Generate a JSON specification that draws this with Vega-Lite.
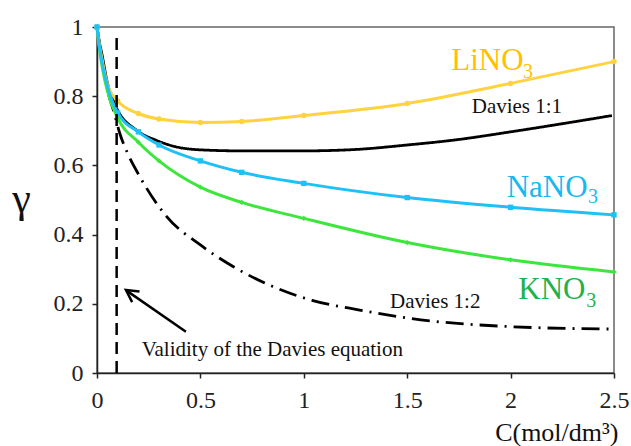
{
  "$schema": "https://vega.github.io/schema/vega-lite/v6.json",
  "width": 517,
  "height": 346,
  "autosize": "none",
  "padding": {"left": 97, "top": 27, "right": 17, "bottom": 73},
  "background": "white",
  "config": {
    "view": {"stroke": "#666666", "strokeWidth": 1.5},
    "font": "Liberation Serif"
  },
  "datasets": {
    "exp": [
      {"salt": "LiNO3", "c": 0, "g": 1.0},
      {"salt": "LiNO3", "c": 0.01, "g": 0.955},
      {"salt": "LiNO3", "c": 0.025, "g": 0.905},
      {"salt": "LiNO3", "c": 0.05, "g": 0.835},
      {"salt": "LiNO3", "c": 0.1, "g": 0.786},
      {"salt": "LiNO3", "c": 0.2, "g": 0.75},
      {"salt": "LiNO3", "c": 0.3, "g": 0.734},
      {"salt": "LiNO3", "c": 0.5, "g": 0.724},
      {"salt": "LiNO3", "c": 0.7, "g": 0.727},
      {"salt": "LiNO3", "c": 1.0, "g": 0.744},
      {"salt": "LiNO3", "c": 1.5, "g": 0.779},
      {"salt": "LiNO3", "c": 2.0, "g": 0.837},
      {"salt": "LiNO3", "c": 2.5, "g": 0.9},
      {"salt": "KNO3", "c": 0, "g": 1.0},
      {"salt": "KNO3", "c": 0.01, "g": 0.945},
      {"salt": "KNO3", "c": 0.025, "g": 0.885},
      {"salt": "KNO3", "c": 0.05, "g": 0.815},
      {"salt": "KNO3", "c": 0.1, "g": 0.737},
      {"salt": "KNO3", "c": 0.2, "g": 0.667},
      {"salt": "KNO3", "c": 0.3, "g": 0.613},
      {"salt": "KNO3", "c": 0.5, "g": 0.537},
      {"salt": "KNO3", "c": 0.7, "g": 0.493},
      {"salt": "KNO3", "c": 1.0, "g": 0.447},
      {"salt": "KNO3", "c": 1.5, "g": 0.377},
      {"salt": "KNO3", "c": 2.0, "g": 0.327},
      {"salt": "KNO3", "c": 2.5, "g": 0.292},
      {"salt": "NaNO3", "c": 0, "g": 1.0},
      {"salt": "NaNO3", "c": 0.01, "g": 0.95},
      {"salt": "NaNO3", "c": 0.025, "g": 0.895},
      {"salt": "NaNO3", "c": 0.05, "g": 0.83},
      {"salt": "NaNO3", "c": 0.1, "g": 0.752},
      {"salt": "NaNO3", "c": 0.2, "g": 0.697},
      {"salt": "NaNO3", "c": 0.3, "g": 0.659},
      {"salt": "NaNO3", "c": 0.5, "g": 0.613},
      {"salt": "NaNO3", "c": 0.7, "g": 0.58},
      {"salt": "NaNO3", "c": 1.0, "g": 0.548},
      {"salt": "NaNO3", "c": 1.5, "g": 0.507},
      {"salt": "NaNO3", "c": 2.0, "g": 0.479},
      {"salt": "NaNO3", "c": 2.5, "g": 0.457}
    ],
    "davies": [
      {"model": "Davies 1:1", "c": 0, "g": 1.0},
      {"model": "Davies 1:1", "c": 0.01, "g": 0.96},
      {"model": "Davies 1:1", "c": 0.023, "g": 0.924},
      {"model": "Davies 1:1", "c": 0.047, "g": 0.847},
      {"model": "Davies 1:1", "c": 0.09, "g": 0.772},
      {"model": "Davies 1:1", "c": 0.19, "g": 0.702},
      {"model": "Davies 1:1", "c": 0.285, "g": 0.673},
      {"model": "Davies 1:1", "c": 0.38, "g": 0.654},
      {"model": "Davies 1:1", "c": 0.5, "g": 0.645},
      {"model": "Davies 1:1", "c": 0.7, "g": 0.642},
      {"model": "Davies 1:1", "c": 1.0, "g": 0.642},
      {"model": "Davies 1:1", "c": 1.25, "g": 0.646},
      {"model": "Davies 1:1", "c": 1.5, "g": 0.659},
      {"model": "Davies 1:1", "c": 1.75, "g": 0.675},
      {"model": "Davies 1:1", "c": 2.0, "g": 0.697},
      {"model": "Davies 1:1", "c": 2.49, "g": 0.744},
      {"model": "Davies 1:2", "c": 0, "g": 1.0},
      {"model": "Davies 1:2", "c": 0.02, "g": 0.92},
      {"model": "Davies 1:2", "c": 0.05, "g": 0.82},
      {"model": "Davies 1:2", "c": 0.084, "g": 0.75},
      {"model": "Davies 1:2", "c": 0.11, "g": 0.693},
      {"model": "Davies 1:2", "c": 0.148, "g": 0.635},
      {"model": "Davies 1:2", "c": 0.2, "g": 0.575},
      {"model": "Davies 1:2", "c": 0.337, "g": 0.452},
      {"model": "Davies 1:2", "c": 0.5, "g": 0.37},
      {"model": "Davies 1:2", "c": 0.66, "g": 0.307},
      {"model": "Davies 1:2", "c": 0.85, "g": 0.25},
      {"model": "Davies 1:2", "c": 1.04, "g": 0.21},
      {"model": "Davies 1:2", "c": 1.27, "g": 0.182},
      {"model": "Davies 1:2", "c": 1.51, "g": 0.158},
      {"model": "Davies 1:2", "c": 2.0, "g": 0.134},
      {"model": "Davies 1:2", "c": 2.49, "g": 0.127}
    ]
  },
  "encoding": {
    "x": {
      "field": "c",
      "type": "quantitative",
      "scale": {"domain": [0, 2.5], "nice": false, "zero": false},
      "axis": {
        "grid": false,
        "values": [0, 0.5, 1, 1.5, 2, 2.5],
        "format": "~g",
        "domainColor": "#222222",
        "domainWidth": 1.5,
        "tickColor": "#222222",
        "tickWidth": 1.5,
        "tickSize": 5,
        "labelFont": "Liberation Serif",
        "labelFontSize": 24,
        "labelColor": "#222222",
        "labelPadding": 10,
        "labelFlush": false,
        "title": "C(mol/dm³)",
        "titleFont": "Liberation Serif",
        "titleFontWeight": "normal",
        "titleColor": "#111111",
        "titleFontSize": 26,
        "titleX": 521,
        "titleY": 67,
        "titleAlign": "right",
        "titleBaseline": "alphabetic"
      }
    },
    "y": {
      "field": "g",
      "type": "quantitative",
      "scale": {"domain": [0, 1], "nice": false},
      "axis": {
        "grid": false,
        "values": [0, 0.2, 0.4, 0.6, 0.8, 1],
        "format": "~g",
        "domainColor": "#222222",
        "domainWidth": 1.5,
        "tickColor": "#222222",
        "tickWidth": 1.5,
        "tickSize": 5,
        "labelFont": "Liberation Serif",
        "labelFontSize": 24,
        "labelColor": "#222222",
        "labelPadding": 9,
        "labelFlush": false,
        "title": "γ",
        "titleFont": "Liberation Serif",
        "titleFontWeight": "normal",
        "titleColor": "#111111",
        "titleFontSize": 42,
        "titleAngle": 0,
        "titleX": -76,
        "titleY": 184,
        "titleAlign": "center",
        "titleBaseline": "alphabetic"
      }
    }
  },
  "layer": [
    {
      "data": {"name": "davies"},
      "mark": {"type": "line", "color": "#000000", "strokeWidth": 2.8, "interpolate": "monotone"},
      "encoding": {
        "detail": {"field": "model"},
        "strokeDash": {
          "field": "model",
          "type": "nominal",
          "scale": {"domain": ["Davies 1:1", "Davies 1:2"], "range": [[1, 0], [18, 7, 2, 7]]},
          "legend": null
        }
      }
    },
    {
      "data": {"name": "exp"},
      "mark": {"type": "line", "strokeWidth": 3, "interpolate": "monotone"},
      "encoding": {
        "color": {
          "field": "salt",
          "type": "nominal",
          "scale": {"domain": ["LiNO3", "NaNO3", "KNO3"], "range": ["#FFD23F", "#1EC0F5", "#3DE63D"]},
          "legend": null
        }
      }
    },
    {
      "data": {"name": "exp"},
      "transform": [{"filter": "datum.c == 0 || datum.c >= 0.1"}],
      "mark": {"type": "point", "filled": true, "opacity": 1},
      "encoding": {
        "color": {
          "field": "salt",
          "type": "nominal",
          "scale": {"domain": ["LiNO3", "NaNO3", "KNO3"], "range": ["#FFD23F", "#1EC0F5", "#3DE63D"]},
          "legend": null
        },
        "shape": {
          "field": "salt",
          "type": "nominal",
          "scale": {"domain": ["LiNO3", "NaNO3", "KNO3"], "range": ["circle", "square", "diamond"]},
          "legend": null
        },
        "size": {
          "field": "salt",
          "type": "nominal",
          "scale": {"domain": ["LiNO3", "NaNO3", "KNO3"], "range": [30, 28, 14]},
          "legend": null
        }
      }
    },
    {
      "data": {"values": [{"c": 0.095, "g": 0, "g2": 0.97}]},
      "mark": {"type": "rule", "color": "#000000", "strokeWidth": 2.5, "strokeDash": [12, 7]},
      "encoding": {"y2": {"field": "g2"}}
    },
    {
      "data": {"values": [{"c": 0.43, "g": 0.119, "c2": 0.143, "g2": 0.238}]},
      "mark": {"type": "rule", "color": "#000000", "strokeWidth": 2.5},
      "encoding": {"x2": {"field": "c2"}, "y2": {"field": "g2"}}
    },
    {
      "data": {"values": [{"c": 0.14, "g": 0.24}]},
      "mark": {"type": "point", "shape": "M-0.47,0.88L0,0L0.47,0.88", "filled": false, "stroke": "#000000", "strokeWidth": 2.5, "size": 751, "angle": 305, "opacity": 1}
    },
    {
      "data": {"values": [
        {"t": "LiNO", "c": 1.713, "g": 0.876, "s": "LiNO3"},
        {"t": "NaNO", "c": 1.981, "g": 0.51, "s": "NaNO3"},
        {"t": "KNO", "c": 2.037, "g": 0.213, "s": "KNO3"}
      ]},
      "mark": {"type": "text", "font": "Liberation Serif", "fontSize": 31, "align": "left", "baseline": "alphabetic"},
      "encoding": {
        "text": {"field": "t"},
        "color": {
          "field": "s",
          "type": "nominal",
          "scale": {"domain": ["LiNO3", "NaNO3", "KNO3"], "range": ["#FFC000", "#18B8F0", "#22B14C"]},
          "legend": null
        }
      }
    },
    {
      "data": {"values": [
        {"t": "3", "c": 2.06, "g": 0.853, "s": "LiNO3"},
        {"t": "3", "c": 2.374, "g": 0.49, "s": "NaNO3"},
        {"t": "3", "c": 2.366, "g": 0.192, "s": "KNO3"}
      ]},
      "mark": {"type": "text", "font": "Liberation Serif", "fontSize": 20, "align": "left", "baseline": "alphabetic"},
      "encoding": {
        "text": {"field": "t"},
        "color": {
          "field": "s",
          "type": "nominal",
          "scale": {"domain": ["LiNO3", "NaNO3", "KNO3"], "range": ["#FFC000", "#18B8F0", "#22B14C"]},
          "legend": null
        }
      }
    },
    {
      "data": {"values": [
        {"t": "Davies 1:1", "c": 1.812, "g": 0.752},
        {"t": "Davies 1:2", "c": 1.417, "g": 0.187},
        {"t": "Validity of the Davies equation", "c": 0.216, "g": 0.05}
      ]},
      "mark": {"type": "text", "font": "Liberation Serif", "fontSize": 21, "align": "left", "baseline": "alphabetic", "color": "#111111"},
      "encoding": {"text": {"field": "t"}}
    }
  ],
  "resolve": {"scale": {"color": "independent", "size": "independent"}}
}
